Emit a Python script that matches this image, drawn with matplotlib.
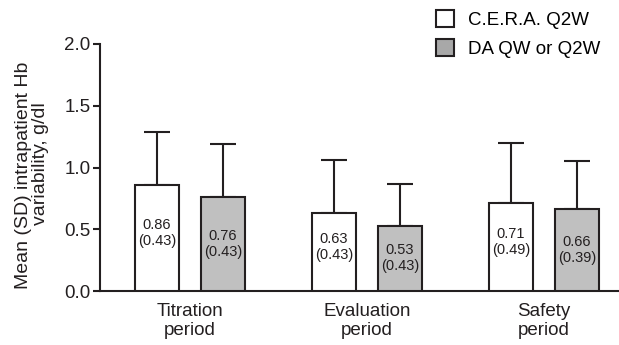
import numpy as np
import matplotlib.pyplot as plt
from matplotlib.patches import Patch

plt.rcParams['font.family'] = ['Liberation Sans', 'DejaVu Sans']

periods = ["Titration\nperiod", "Evaluation\nperiod", "Safety\nperiod"]
cera_mean = [0.86, 0.63, 0.71]
cera_sd = [0.43, 0.43, 0.49]
da_mean = [0.76, 0.53, 0.66]
da_sd = [0.43, 0.34, 0.39]
da_sd_label = [0.43, 0.43, 0.39]   # as printed in the bars
series_names = ["C.E.R.A. Q2W", "DA QW or Q2W"]
ylabel_lines = ["Mean (SD) intrapatient Hb", "variability, g/dl"]

edge = "#231f20"
grey = "#c0c0c0"

fig = plt.figure(figsize=(6.19, 3.45), dpi=100)
ax = fig.add_axes([100/619, 54/345, 519/619, 247/345])

x = np.arange(len(periods))
w = 0.249
off = 0.186

ax.bar(x - off, cera_mean, w, color="white", edgecolor=edge, linewidth=1.5, zorder=3)
ax.bar(x + off, da_mean, w, color=grey, edgecolor=edge, linewidth=1.5, zorder=3)

# upward-only error bars
ax.errorbar(x - off, cera_mean, yerr=[np.zeros(3), cera_sd], fmt="none",
            ecolor=edge, elinewidth=1.5, capsize=9.7, capthick=1.5, zorder=2)
ax.errorbar(x + off, da_mean, yerr=[np.zeros(3), da_sd], fmt="none",
            ecolor=edge, elinewidth=1.5, capsize=9.7, capthick=1.5, zorder=2)

for i in range(len(periods)):
    ax.text(x[i] - off, cera_mean[i] / 2 + 0.04, f"{cera_mean[i]:.2f}\n({cera_sd[i]:.2f})",
            ha="center", va="center", fontsize=10.5, color=edge, zorder=4)
    ax.text(x[i] + off, da_mean[i] / 2, f"{da_mean[i]:.2f}\n({da_sd_label[i]:.2f})",
            ha="center", va="center", fontsize=10.5, color=edge, zorder=4)

ax.set_xlim(-0.508, 2.424)
ax.set_ylim(0, 2.0)
ax.set_yticks([0, 0.5, 1.0, 1.5, 2.0])
ax.set_yticklabels(["0.0", "0.5", "1.0", "1.5", "2.0"])
ax.set_xticks(x)
ax.set_xticklabels(periods, fontsize=13.5, color=edge, linespacing=1.1)
ax.tick_params(axis="x", length=0, pad=9)
ax.tick_params(axis="y", length=5, width=1.5, labelsize=13.5, colors=edge, pad=2)

# two-line y label, each line centred on its own
fig.text(28/619, 1 - 175/345, ylabel_lines[0], rotation=90, rotation_mode="anchor",
         ha="center", va="baseline", fontsize=14, color=edge)
fig.text(45/619, 1 - 164/345, ylabel_lines[1], rotation=90, rotation_mode="anchor",
         ha="center", va="baseline", fontsize=14, color=edge)

for s in ["top", "right"]:
    ax.spines[s].set_visible(False)
for s in ["left", "bottom"]:
    ax.spines[s].set_linewidth(1.5)
    ax.spines[s].set_color(edge)

handles = [Patch(facecolor="white", edgecolor=edge, linewidth=1.5),
           Patch(facecolor="#a8a8a8", edgecolor=edge, linewidth=1.5)]
ax.legend(handles, series_names, loc="upper left", bbox_to_anchor=(436/619, 1 - 10/345),
          bbox_transform=fig.transFigure, frameon=False, fontsize=13.5,
          handlelength=0.95, handleheight=1.0, handletextpad=0.75, labelspacing=0.55,
          borderaxespad=0, borderpad=0)

fig.savefig("out.png", dpi=100)
